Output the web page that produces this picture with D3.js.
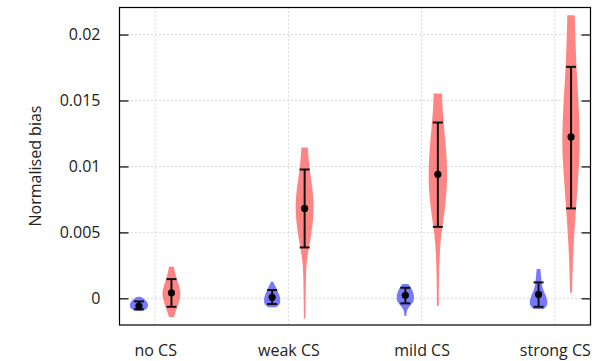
<!DOCTYPE html>
<html>
<head>
<meta charset="utf-8">
<script src="https://cdn.jsdelivr.net/npm/d3@7"></script>
<style>
  body { margin: 0; background: #fff; }
  text { font-family: "Open Sans", "Noto Sans", sans-serif; fill: #222; }
</style>
</head>
<body>
<svg id="chart" width="603" height="361"></svg>
<script>
// categories and tick labels
const categories = ["no CS", "weak CS", "mild CS", "strong CS"];
const yTicks = [0, 0.005, 0.01, 0.015, 0.02];

// mean and error bar per category
const blueMean = [-0.00058, 0.00008, 0.00023, 0.0003];
const blueLow = [-0.00083, -0.00043, -0.00038, -0.00064];
const blueHigh = [-0.00023, 0.00063, 0.0008, 0.00121];
const redMean = [0.00042, 0.00682, 0.0094, 0.01224];
const redLow = [-0.00064, 0.00386, 0.00542, 0.00682];
const redHigh = [0.00146, 0.00977, 0.01333, 0.01755];

// violin profiles: [value, relative half width]
const blueViolins = [
  [[-0.00096, 0.2], [-0.0009, 0.55], [-0.0008, 0.85], [-0.0006, 1], [-0.0004, 0.97], [-0.0002, 0.8], [0, 0.5], [0.00012, 0.15]],
  [[-0.00068, 0.4], [-0.0005, 0.8], [-0.0002, 0.9], [0.0002, 0.82], [0.0006, 0.55], [0.0009, 0.35], [0.00126, 0.12]],
  [[-0.00134, 0.1], [-0.0009, 0.14], [-0.0006, 0.45], [-0.0003, 0.85], [0, 0.95], [0.0004, 0.9], [0.0008, 0.62], [0.00108, 0.32]],
  [[-0.00081, 0.55], [-0.0006, 0.9], [-0.0003, 0.97], [0, 0.9], [0.0004, 0.65], [0.0008, 0.42], [0.0012, 0.33], [0.0017, 0.27], [0.00222, 0.2]]
];
const redViolins = [
  [[-0.00144, 0.25], [-0.001, 0.45], [-0.0005, 0.7], [0, 0.93], [0.0004, 1], [0.0009, 0.85], [0.0014, 0.6], [0.0019, 0.4], [0.0024, 0.25]],
  [[-0.00152, 0.08], [0, 0.1], [0.002, 0.15], [0.003, 0.25], [0.004, 0.5], [0.005, 0.75], [0.006, 0.92], [0.007, 1], [0.008, 0.9], [0.009, 0.7], [0.01, 0.5], [0.011, 0.38], [0.01144, 0.35]],
  [[-0.00058, 0.1], [0.002, 0.12], [0.004, 0.25], [0.005, 0.4], [0.006, 0.6], [0.007, 0.8], [0.008, 0.92], [0.009, 1], [0.0105, 0.97], [0.012, 0.8], [0.0135, 0.6], [0.0145, 0.5], [0.01553, 0.45]],
  [[0.00042, 0.1], [0.003, 0.2], [0.005, 0.35], [0.007, 0.55], [0.009, 0.75], [0.011, 0.93], [0.012, 0.95], [0.014, 0.88], [0.016, 0.7], [0.018, 0.55], [0.02, 0.45], [0.02146, 0.4]]
];

const svg = d3.select("#chart");
const plotLeft = 119.5, plotRight = 590.5, plotTop = 7.5, plotBottom = 325;

const x = d3.scaleLinear().domain([0.732, 4.268]).range([plotLeft, plotRight]);
const y = d3.scaleLinear().domain([-0.00202, 0.02205]).range([plotBottom, plotTop]);
const offset = 0.122; // distance of each violin from category centre
const maxHalf = 9.3;

// grid lines
const grid = svg.append("g").attr("stroke", "#b4b4b4").attr("stroke-dasharray", "1,3");
yTicks.forEach(t => {
  grid.append("line").attr("x1", plotLeft).attr("x2", plotRight).attr("y1", y(t)).attr("y2", y(t));
});
categories.forEach((c, i) => {
  grid.append("line").attr("x1", x(i + 1)).attr("x2", x(i + 1)).attr("y1", plotTop).attr("y2", plotBottom);
});

// violins
const drawViolin = (profile, cx, color) => {
  const area = d3.area()
    .y(d => y(d[0]))
    .x0(d => cx - d[1] * maxHalf)
    .x1(d => cx + d[1] * maxHalf)
    .curve(d3.curveBasis);
  const first = profile[0], last = profile[profile.length - 1];
  const pts = [first, ...profile, last];
  svg.append("path").datum(pts).attr("d", area).attr("fill", color).attr("opacity", 0.92);
};

const drawError = (cx, lo, hi, mean) => {
  const g = svg.append("g").attr("stroke", "#111").attr("stroke-width", 2);
  g.append("line").attr("x1", cx).attr("x2", cx).attr("y1", y(lo)).attr("y2", y(hi));
  g.append("line").attr("x1", cx - 5).attr("x2", cx + 5).attr("y1", y(lo)).attr("y2", y(lo));
  g.append("line").attr("x1", cx - 5).attr("x2", cx + 5).attr("y1", y(hi)).attr("y2", y(hi));
  svg.append("circle").attr("cx", cx).attr("cy", y(mean)).attr("r", 3.6).attr("fill", "#000");
};

categories.forEach((c, i) => {
  const bx = x(i + 1 - offset), rx = x(i + 1 + offset);
  drawViolin(blueViolins[i], bx, "#6c6cff");
  drawViolin(redViolins[i], rx, "#ff7a7a");
  drawError(bx, blueLow[i], blueHigh[i], blueMean[i]);
  drawError(rx, redLow[i], redHigh[i], redMean[i]);
});

// frame and ticks
svg.append("rect").attr("x", plotLeft).attr("y", plotTop).attr("width", plotRight - plotLeft).attr("height", plotBottom - plotTop)
  .attr("fill", "none").attr("stroke", "#000").attr("stroke-width", 1.2);

const yAxisL = d3.axisLeft(y).tickValues(yTicks).tickSizeInner(-9).tickSizeOuter(0).tickPadding(19)
  .tickFormat(d => String(+d.toFixed(3)));
const gl = svg.append("g").attr("transform", `translate(${plotLeft},0)`).call(yAxisL);
gl.select(".domain").remove();
gl.selectAll("text").style("font-size", "16px").attr("font-family", null).attr("fill", "#222");
gl.selectAll("line").attr("stroke", "#000").attr("stroke-width", 1.2);

const yAxisR = d3.axisRight(y).tickValues(yTicks).tickSizeInner(-9).tickSizeOuter(0).tickFormat("");
const gr = svg.append("g").attr("transform", `translate(${plotRight},0)`).call(yAxisR);
gr.select(".domain").remove();
gr.selectAll("line").attr("stroke", "#000").attr("stroke-width", 1.2);

// category labels
const xAxis = d3.axisBottom(x).tickValues([1, 2, 3, 4]).tickSize(0).tickPadding(20)
  .tickFormat((d, i) => categories[i]);
const gx = svg.append("g").attr("transform", `translate(0,${plotBottom})`).call(xAxis);
gx.select(".domain").remove();
gx.selectAll("text").style("font-size", "16px").attr("font-family", null).attr("fill", "#222");

// y axis title
svg.append("text")
  .attr("transform", "translate(41,166) rotate(-90)")
  .attr("text-anchor", "middle")
  .style("font-size", "16px")
  .text("Normalised bias");
</script>
</body>
</html>
